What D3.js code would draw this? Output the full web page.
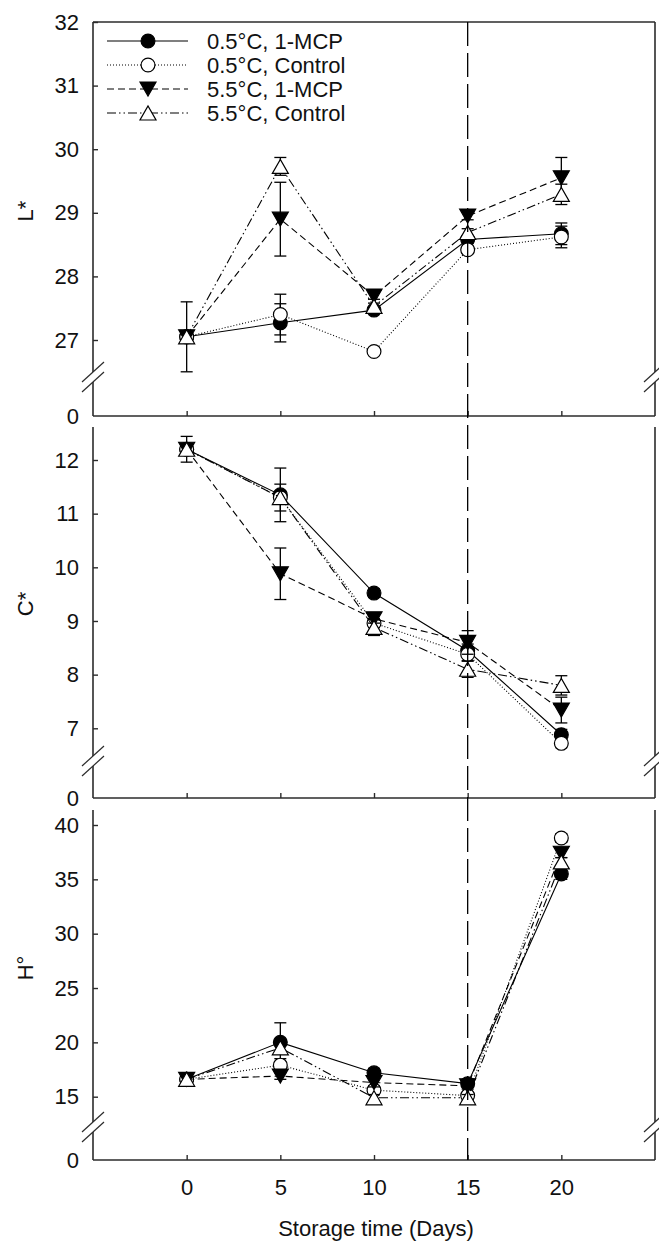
<!DOCTYPE html>
<html>
<head>
<meta charset="utf-8">
<script src="https://cdn.jsdelivr.net/npm/d3@7/dist/d3.min.js"></script>
<style>
  html, body { margin: 0; padding: 0; background: #fff; }
  svg { display: block; }
  text { font-family: "Liberation Sans", Arial, sans-serif; fill: #111; }
</style>
</head>
<body>
<svg id="chart" width="659" height="1245"></svg>
<script>
// Storage days on the x axis
const days = [0, 5, 10, 15, 20];
const seriesNames = ["0.5°C, 1-MCP", "0.5°C, Control", "5.5°C, 1-MCP", "5.5°C, Control"];

// Lightness L*
const lMcp05 = [27.05, 27.27, 27.47, 28.58, 28.67];
const lCtl05 = [27.05, 27.40, 26.82, 28.42, 28.62];
const lMcp55 = [27.05, 28.90, 27.69, 28.95, 29.55];
const lCtl55 = [27.05, 29.73, 27.53, 28.69, 29.29];
const lMcp05Se = [0.55, 0.30, 0.05, 0.06, 0.17];
const lCtl05Se = [0.05, 0.32, 0.05, 0.06, 0.17];
const lMcp55Se = [0.05, 0.58, 0.05, 0.06, 0.32];
const lCtl55Se = [0.05, 0.14, 0.05, 0.06, 0.16];

// Chroma C*
const cMcp05 = [12.20, 11.35, 9.52, 8.45, 6.88];
const cCtl05 = [12.20, 11.30, 8.96, 8.38, 6.72];
const cMcp55 = [12.20, 9.88, 9.04, 8.60, 7.34];
const cCtl55 = [12.20, 11.30, 8.88, 8.10, 7.80];
const cMcp05Se = [0.24, 0.50, 0.08, 0.12, 0.10];
const cCtl05Se = [0.10, 0.25, 0.08, 0.12, 0.08];
const cMcp55Se = [0.10, 0.48, 0.08, 0.22, 0.24];
const cCtl55Se = [0.10, 0.12, 0.15, 0.15, 0.18];

// Hue angle H°
const hMcp05 = [16.6, 20.0, 17.2, 16.2, 35.5];
const hCtl05 = [16.6, 17.9, 15.6, 15.1, 38.8];
const hMcp55 = [16.6, 16.9, 16.3, 16.0, 37.4];
const hCtl55 = [16.6, 19.5, 14.9, 14.9, 36.6];
const hMcp05Se = [0.3, 1.8, 0.4, 0.3, 0.5];
const hCtl05Se = [0.3, 0.6, 0.4, 0.3, 0.4];
const hMcp55Se = [0.3, 0.3, 0.4, 0.3, 0.4];
const hCtl55Se = [0.3, 0.5, 0.3, 0.3, 0.4];

// Tick labels
const lTicks = [0, 27, 28, 29, 30, 31, 32];
const cTicks = [0, 7, 8, 9, 10, 11, 12];
const hTicks = [0, 15, 20, 25, 30, 35, 40];
const xLabel = "Storage time (Days)";
const markerDay = 15;

// ---- drawing ----
const svg = d3.select("#chart");
const left = 93, right = 655;
const x = d3.scaleLinear().domain([-5, 25]).range([left, right]);

// line style per series: solid, dotted, dashed, dash-dot-dot
const dashes = [null, "1,2", "7,4", "9,3,1.5,3,1.5,3"];
const shapes = ["circle", "circle", "down", "up"];
const fills = ["#000", "#fff", "#000", "#fff"];

const panels = [
  { title: "L*", titleY: 211, top: 22, bottom: 416, brk: 377, lo: 27, hi: 32, loY: 340, hiY: 22, ticks: lTicks, frameTop: true,
    values: [lMcp05, lCtl05, lMcp55, lCtl55], errs: [lMcp05Se, lCtl05Se, lMcp55Se, lCtl55Se] },
  { title: "C*", titleY: 604, top: 427, bottom: 798, brk: 761, lo: 7, hi: 12, loY: 728.3, hiY: 460, ticks: cTicks, frameTop: false,
    values: [cMcp05, cCtl05, cMcp55, cCtl55], errs: [cMcp05Se, cCtl05Se, cMcp55Se, cCtl55Se] },
  { title: "H°", titleY: 968, top: 810, bottom: 1160, brk: 1127, lo: 15, hi: 40, loY: 1096.7, hiY: 825, ticks: hTicks, frameTop: false,
    values: [hMcp05, hCtl05, hMcp55, hCtl55], errs: [hMcp05Se, hCtl05Se, hMcp55Se, hCtl55Se] }
];

function markerPath(shape) {
  if (shape === "circle") return d3.symbol(d3.symbolCircle, 150)();
  const w = 8, h = 7;
  if (shape === "down") return `M${-w},${-h}L${w},${-h}L0,${h}Z`;
  return `M${-w},${h}L${w},${h}L0,${-h}Z`;
}

const axisColor = "#2b2b2b";

panels.forEach((p, pi) => {
  const valAt = px => p.lo + (p.loY - px) / (p.loY - p.hiY) * (p.hi - p.lo);
  const y = d3.scaleLinear()
    .domain([0, valAt(p.brk), valAt(p.top)])
    .range([p.bottom, p.brk, p.top]);

  const g = svg.append("g");
  const gap = 5;

  // frame lines (left & right with breaks, bottom, optional top)
  [left, right].forEach(ax => {
    g.append("line").attr("x1", ax).attr("x2", ax).attr("y1", p.top).attr("y2", p.brk - gap)
      .attr("stroke", axisColor).attr("stroke-width", 1.6);
    g.append("line").attr("x1", ax).attr("x2", ax).attr("y1", p.brk + gap).attr("y2", p.bottom)
      .attr("stroke", axisColor).attr("stroke-width", 1.6);
    [-gap, gap].forEach(off => {
      g.append("line")
        .attr("x1", ax - 11).attr("y1", p.brk + off + 10)
        .attr("x2", ax + 11).attr("y2", p.brk + off - 10)
        .attr("stroke", axisColor).attr("stroke-width", 1.2);
    });
  });
  if (p.frameTop) {
    g.append("line").attr("x1", left).attr("x2", right).attr("y1", p.top).attr("y2", p.top)
      .attr("stroke", axisColor).attr("stroke-width", 1.6);
  }

  // y axis ticks and labels
  const yAxis = d3.axisLeft(y).tickValues(p.ticks).tickSizeInner(-5).tickSizeOuter(0).tickPadding(14)
    .tickFormat(d3.format("d"));
  const ya = g.append("g").attr("transform", `translate(${left},0)`).call(yAxis);
  ya.select(".domain").remove();
  ya.selectAll(".tick line").attr("stroke", axisColor).attr("stroke-width", 1.4);
  ya.selectAll(".tick text").attr("font-size", 22).attr("font-family", "Liberation Sans, Arial, sans-serif").attr("fill", "#111");
  ya.selectAll(".tick").filter(d => d === 0).select("line").remove();

  // x axis ticks (labels only on the bottom panel)
  const last = pi === panels.length - 1;
  const xAxis = d3.axisBottom(x).tickValues(days).tickSizeInner(-5).tickSizeOuter(0).tickPadding(19)
    .tickFormat(last ? d3.format("d") : () => "");
  const xa = g.append("g").attr("transform", `translate(0,${p.bottom})`).call(xAxis);
  xa.select(".domain").remove();
  xa.selectAll(".tick line").attr("stroke", axisColor).attr("stroke-width", 1.4);
  xa.selectAll(".tick text").attr("font-size", 22).attr("font-family", "Liberation Sans, Arial, sans-serif").attr("fill", "#111");
  g.append("line").attr("x1", left).attr("x2", right).attr("y1", p.bottom).attr("y2", p.bottom)
    .attr("stroke", axisColor).attr("stroke-width", 1.6);

  // y title
  g.append("text").attr("transform", `translate(33,${p.titleY}) rotate(-90)`)
    .attr("text-anchor", "middle").attr("font-size", 22).text(p.title);

  // series
  p.values.forEach((vals, si) => {
    const pts = days.map((d, i) => ({ d, v: vals[i], e: p.errs[si][i] }));
    const line = d3.line().x(q => x(q.d)).y(q => y(q.v));
    const path = g.append("path").datum(pts).attr("d", line)
      .attr("fill", "none").attr("stroke", "#000").attr("stroke-width", 1.1);
    if (dashes[si]) path.attr("stroke-dasharray", dashes[si]);

    const eb = g.append("g").attr("stroke", "#000").attr("stroke-width", 1.3);
    pts.forEach(q => {
      const cx = x(q.d), y0 = y(q.v + q.e), y1 = y(q.v - q.e);
      eb.append("line").attr("x1", cx).attr("x2", cx).attr("y1", y0).attr("y2", y1);
      eb.append("line").attr("x1", cx - 6).attr("x2", cx + 6).attr("y1", y0).attr("y2", y0);
      eb.append("line").attr("x1", cx - 6).attr("x2", cx + 6).attr("y1", y1).attr("y2", y1);
    });

    g.selectAll(null).data(pts).enter().append("path")
      .attr("d", markerPath(shapes[si]))
      .attr("transform", q => `translate(${x(q.d)},${y(q.v)})`)
      .attr("fill", fills[si]).attr("stroke", "#000").attr("stroke-width", 1.2);
  });
});

// vertical reference line at day 15 through all panels
svg.append("line")
  .attr("x1", x(markerDay)).attr("x2", x(markerDay))
  .attr("y1", panels[0].top).attr("y2", panels[2].bottom)
  .attr("stroke", "#000").attr("stroke-width", 1.3).attr("stroke-dasharray", "24,7");

// x title
svg.append("text").attr("x", (left + right) / 2 + 2).attr("y", 1236)
  .attr("text-anchor", "middle").attr("font-size", 22).text(xLabel);

// legend
const lg = svg.append("g");
seriesNames.forEach((name, si) => {
  const ly = 41 + si * 24;
  const ln = lg.append("line").attr("x1", 107).attr("x2", 188).attr("y1", ly).attr("y2", ly)
    .attr("stroke", "#000").attr("stroke-width", 1.1);
  if (dashes[si]) ln.attr("stroke-dasharray", dashes[si]);
  lg.append("path").attr("d", markerPath(shapes[si])).attr("transform", `translate(148,${ly})`)
    .attr("fill", fills[si]).attr("stroke", "#000").attr("stroke-width", 1.2);
  lg.append("text").attr("x", 207).attr("y", ly + 8).attr("font-size", 22).text(name);
});
</script>
</body>
</html>
